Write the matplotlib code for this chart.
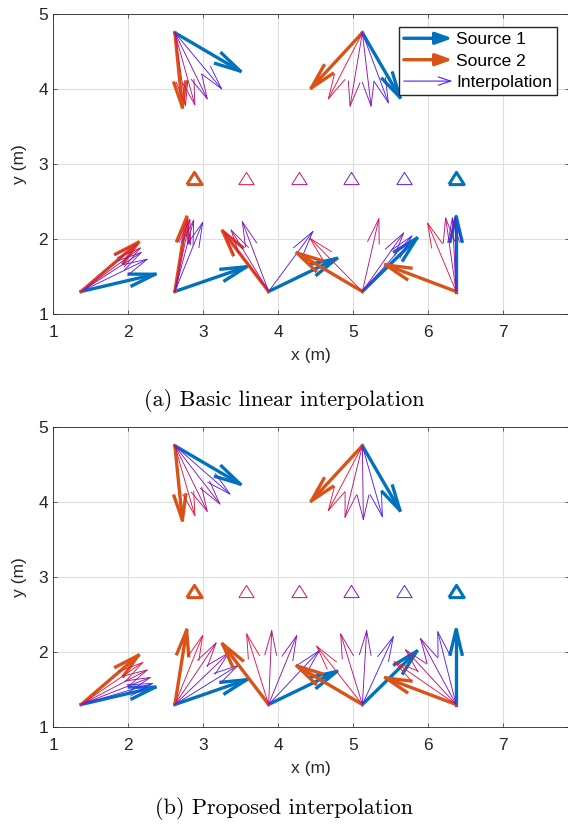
import matplotlib
matplotlib.use('Agg')
import matplotlib.pyplot as plt
from matplotlib.patches import FancyArrowPatch
from matplotlib.lines import Line2D
from matplotlib.legend_handler import HandlerBase

plt.rcParams['font.family'] = ['Liberation Sans', 'DejaVu Sans']

# arrow origins (m)
src_x = [2.625, 5.125, 1.375, 2.625, 3.875, 5.125, 6.375]
src_y = [4.75, 4.75, 1.3, 1.3, 1.3, 1.3, 1.3]

# source vectors (u, v)
src1_u = [0.87, 0.50, 0.985, 0.955, 0.907, 0.724, 0.0]
src1_v = [-0.51, -0.86, 0.23, 0.33, 0.44, 0.709, 1.0]
src2_u = [0.10, -0.68, 0.763, 0.157, -0.613, -0.87, -0.94]
src2_v = [-0.99, -0.735, 0.655, 0.99, 0.805, 0.513, 0.355]

# basic linear interpolation, 4 steps per origin (red -> blue)
basic_u = [[0.142, 0.266, 0.431, 0.622],
           [-0.453, -0.164, 0.116, 0.347],
           [0.75, 0.79, 0.80, 0.88],
           [0.17, 0.20, 0.25, 0.37],
           [-0.60, -0.50, -0.35, 0.59],
           [-0.70, 0.22, 0.55, 0.66],
           [-0.38, -0.14, -0.05, -0.01]]
basic_v = [[-0.969, -0.96, -0.88, -0.747],
           [-0.88, -0.978, -0.978, -0.934],
           [0.64, 0.58, 0.52, 0.43],
           [0.97, 0.96, 0.95, 0.92],
           [0.80, 0.82, 0.93, 0.80],
           [0.71, 0.97, 0.78, 0.74],
           [0.91, 0.98, 0.98, 0.99]]

# proposed interpolation
prop_u = [[0.266, 0.431, 0.60, 0.733],
          [-0.453, -0.231, 0.013, 0.267],
          [0.82, 0.88, 0.92, 0.95],
          [0.37, 0.55, 0.72, 0.84],
          [-0.293, 0.041, 0.374, 0.676],
          [-0.609, -0.289, 0.057, 0.413],
          [-0.825, -0.675, -0.475, -0.245]]
prop_v = [[-0.931, -0.874, -0.776, -0.643],
          [-0.864, -0.953, -0.984, -0.945],
          [0.56, 0.46, 0.36, 0.28],
          [0.92, 0.82, 0.69, 0.52],
          [0.941, 0.985, 0.918, 0.718],
          [0.777, 0.941, 0.985, 0.905],
          [0.57, 0.73, 0.88, 0.97]]

# receiver triangles
tri_x = [2.875, 3.575, 4.275, 4.975, 5.675, 6.375]
tri_y = 2.82

blue = (0.0, 0.447, 0.741)
orange = (0.85, 0.325, 0.098)
interp_colors = [(0.92, 0.08, 0.25), (0.72, 0.08, 0.48), (0.52, 0.08, 0.72),
                 (0.32, 0.12, 0.95)]
tri_colors = [orange] + interp_colors + [blue]

head_a = 0.33
head_b = 0.24


def draw_arrow(ax, x0, y0, u, v, color, lw):
    tx, ty = x0 + u, y0 + v
    ax.plot([x0, tx], [y0, ty], color=color, lw=lw)
    hx = [tx - head_a * (u + head_b * v), tx, tx - head_a * (u - head_b * v)]
    hy = [ty - head_a * (v - head_b * u), ty, ty - head_a * (v + head_b * u)]
    ax.plot(hx, hy, color=color, lw=lw)


class ArrowHandler(HandlerBase):
    def __init__(self, style):
        super().__init__()
        self.style = style

    def create_artists(self, legend, orig_handle, xdescent, ydescent,
                       width, height, fontsize, trans):
        y = height / 2 - ydescent
        arr = FancyArrowPatch((-xdescent, y), (-xdescent + width, y),
                              arrowstyle=self.style, mutation_scale=10,
                              color=orig_handle.get_color(),
                              lw=orig_handle.get_linewidth(),
                              shrinkA=0, shrinkB=0, transform=trans)
        return [arr]


def make_panel(ax, ius, ivs, legend):
    for i in range(len(src_x)):
        draw_arrow(ax, src_x[i], src_y[i], src1_u[i], src1_v[i], blue, 2.4)
        draw_arrow(ax, src_x[i], src_y[i], src2_u[i], src2_v[i], orange, 2.4)
        for k in range(4):
            draw_arrow(ax, src_x[i], src_y[i], ius[i][k], ivs[i][k],
                       interp_colors[k], 0.65)
    tri = [(-1, -0.8), (1, -0.8), (0, 0.8), (-1, -0.8)]
    for k, x in enumerate(tri_x):
        thick = k == 0 or k == len(tri_x) - 1
        ax.plot(x, tri_y, marker=tri, ms=11, mfc='none',
                mec=tri_colors[k], mew=2.2 if thick else 0.7, ls='none')

    ax.set_xlim(1, 1 + 516 / 75)
    ax.set_ylim(1, 5)
    ax.set_xticks(range(1, 8))
    ax.set_yticks(range(1, 6))
    ax.grid(True, color='#dedede', lw=0.8)
    ax.set_axisbelow(True)
    ax.tick_params(direction='in', top=True, right=True, length=2.6,
                   width=0.5, labelsize=12.5, colors='#262626')
    ax.tick_params(axis='x', pad=8)
    for s in ax.spines.values():
        s.set_color('#262626')
        s.set_linewidth(0.6)
    ax.set_xlabel('x (m)', fontsize=12.5, color='#262626', labelpad=6)
    ax.set_ylabel('y (m)', fontsize=12.5, color='#262626', labelpad=8)

    if legend:
        h1 = Line2D([], [], color=blue, lw=2.4)
        h2 = Line2D([], [], color=orange, lw=2.4)
        h3 = Line2D([], [], color=interp_colors[3], lw=0.8)
        ax.legend([h1, h2, h3], ['Source 1', 'Source 2', 'Interpolation'],
                  handler_map={h1: ArrowHandler('-|>,head_length=1.0,head_width=0.36'),
                               h2: ArrowHandler('-|>,head_length=1.0,head_width=0.36'),
                               h3: ArrowHandler('->,head_length=0.9,head_width=0.3')},
                  loc='upper right', bbox_to_anchor=(504 / 516, 1 - 13 / 300),
                  borderaxespad=0, fontsize=12.5, fancybox=False,
                  framealpha=1, edgecolor='#262626', handlelength=2.8,
                  handletextpad=0.2, labelspacing=0.36, borderpad=0.3)


fig = plt.figure(figsize=(5.68, 8.25), dpi=100)
ax1 = fig.add_axes([53 / 568, 1 - 314 / 825, 516 / 568, 300 / 825])
ax2 = fig.add_axes([53 / 568, 1 - 727 / 825, 516 / 568, 300 / 825])

make_panel(ax1, basic_u, basic_v, True)
make_panel(ax2, prop_u, prop_v, False)

fig.text(0.5, 1 - 401 / 825, '(a) Basic linear interpolation', ha='center',
         va='center', family='cmr10', size=16)
fig.text(0.5, 1 - 808 / 825, '(b) Proposed interpolation', ha='center',
         va='center', family='cmr10', size=16)

fig.savefig('out.png', dpi=100)
